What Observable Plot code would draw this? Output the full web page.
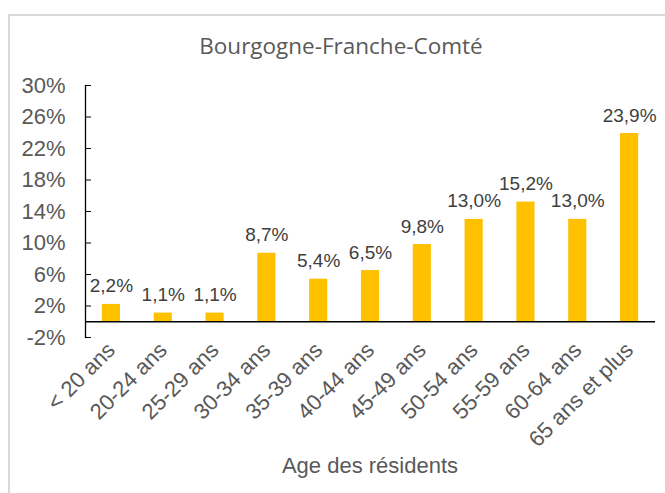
<!DOCTYPE html>
<html>
<head>
<meta charset="utf-8">
<script src="https://cdn.jsdelivr.net/npm/d3@7"></script>
<script src="https://cdn.jsdelivr.net/npm/@observablehq/plot@0.6"></script>
<style>
  html, body { margin: 0; padding: 0; background: #fff; }
  body { width: 665px; height: 493px; position: relative; overflow: hidden; }
  #frame { position: absolute; left: 8px; top: 14px; width: 700px; height: 520px;
           border-left: 2px solid #d9d9d9; border-top: 2px solid #d9d9d9; box-sizing: border-box; }
  #title { position: absolute; left: 0; width: 682px; top: 30px; text-align: center;
           font-family: "Open Sans", sans-serif; font-size: 22.5px; color: #595959; }
  #xlabel { position: absolute; left: 85px; width: 570px; top: 453px; text-align: center; line-height: normal;
            font-family: "Liberation Sans", Arial, sans-serif; font-size: 22px; color: #595959; }
  #chart { position: absolute; left: 0; top: 0; }
</style>
</head>
<body>
<div id="frame"></div>
<div id="title">Bourgogne-Franche-Comté</div>
<div id="chart"></div>
<div id="xlabel">Age des résidents</div>
<script>
const categories = ["< 20 ans", "20-24 ans", "25-29 ans", "30-34 ans", "35-39 ans", "40-44 ans",
  "45-49 ans", "50-54 ans", "55-59 ans", "60-64 ans", "65 ans et plus"];
const values = [2.2, 1.1, 1.1, 8.7, 5.4, 6.5, 9.8, 13.0, 15.2, 13.0, 23.9];
const yTicks = [-2, 2, 6, 10, 14, 18, 22, 26, 30];

const data = categories.map((c, i) => ({cat: c, v: values[i]}));
const fmt = v => v.toFixed(1).replace(".", ",") + "%";

const chart = Plot.plot({
  width: 665,
  height: 493,
  marginLeft: 85,
  marginRight: 10,
  marginTop: 85,
  marginBottom: 156,
  style: {fontFamily: "'Liberation Sans', Arial, sans-serif", background: "transparent"},
  x: {domain: categories, paddingInner: 0.65, paddingOuter: 0.325, round: false, axis: null},
  y: {domain: [-2, 30], axis: null},
  marks: [
    Plot.barY(data, {x: "cat", y: "v", fill: "#FFC000"}),
    Plot.ruleY([0], {stroke: "#000", strokeWidth: 1.3}),
    Plot.frame({anchor: "left", stroke: "#000", strokeWidth: 1.3}),
    Plot.axisY({ticks: yTicks, tickSize: -6, tickPadding: 26, tickFormat: d => d + "%",
      fontSize: 22, color: "#595959", stroke: "#000", label: null}),
    Plot.text(data, {x: "cat", y: "v", text: d => fmt(d.v), lineAnchor: "bottom", dy: -12,
      fontSize: 19, fill: "#404040"}),
    Plot.text(data, {x: "cat", text: "cat", frameAnchor: "bottom", rotate: -45, textAnchor: "end",
      lineAnchor: "middle", dx: 0, dy: 9, fontSize: 22, fill: "#595959"})
  ]
});
document.getElementById("chart").appendChild(chart);
</script>
</body>
</html>
